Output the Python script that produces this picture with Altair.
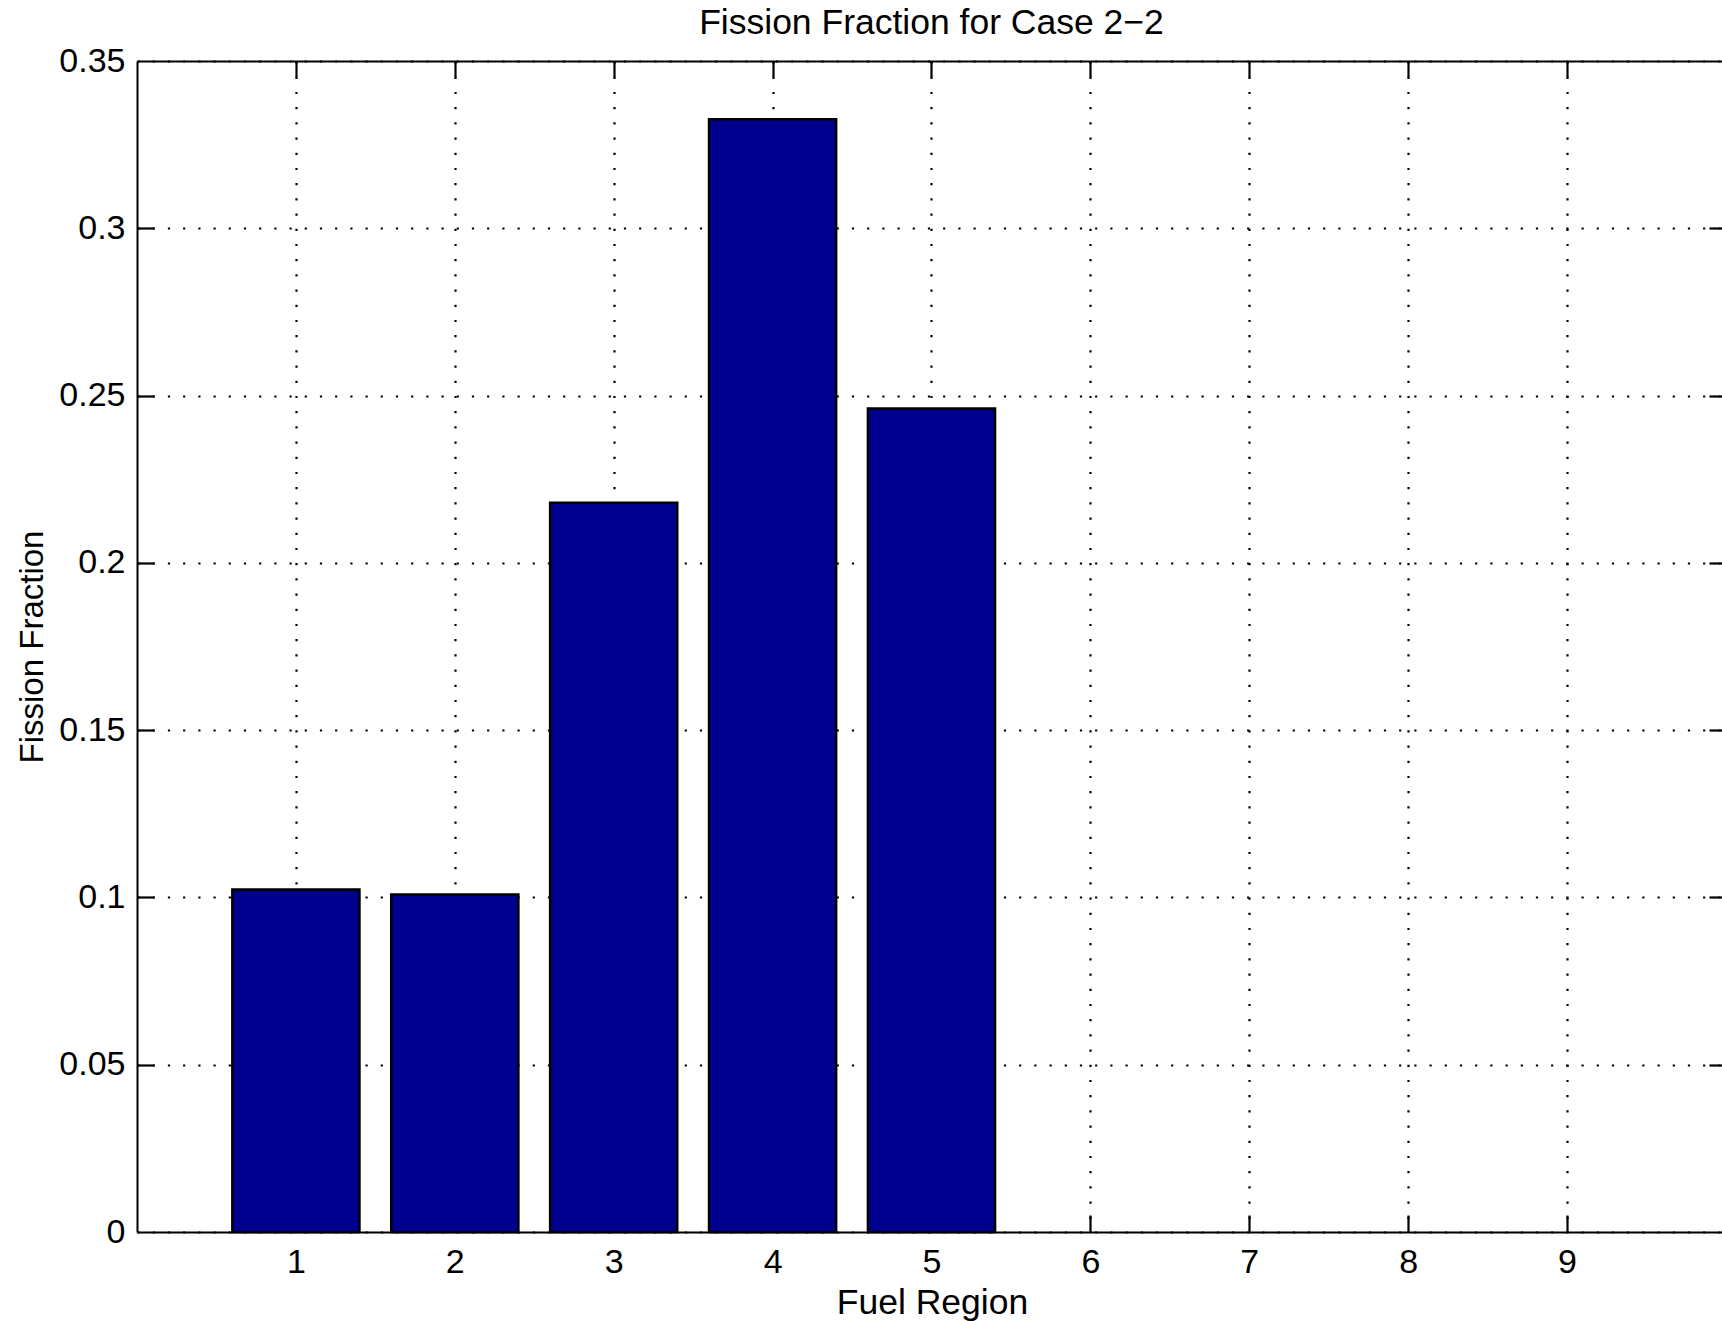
import altair as alt
import pandas as pd

# Fission fraction per fuel region (regions 6-9 carry no fission)
regions = [1, 2, 3, 4, 5]
fractions = [0.1024, 0.1009, 0.2180, 0.3326, 0.2461]

x_ticks = [1, 2, 3, 4, 5, 6, 7, 8, 9]
y_ticks = [0, 0.05, 0.1, 0.15, 0.2, 0.25, 0.3, 0.35]

df = pd.DataFrame({"region": regions, "fraction": fractions})

FONT = "Liberation Sans"
W, H = 1585, 1171
TICK = 17

x_scale = alt.Scale(domain=[0, 9.975], nice=False, zero=False)
y_scale = alt.Scale(domain=[0, 0.35], nice=False, zero=False)

grid_style = dict(grid=True, gridColor="black", gridWidth=2.2, gridOpacity=1,
                  gridDash=[2.2, 13], gridCap="butt")

# Main layer: bars, labelled axes and dotted grid
x_main = alt.Axis(orient="bottom", values=x_ticks, title="Fuel Region",
                  ticks=False, tickSize=0, domain=True, domainColor="black",
                  domainWidth=2, labelFont=FONT, labelFontSize=34,
                  labelColor="black", labelPadding=13, titleFont=FONT,
                  titleFontSize=35.5, titleFontWeight="normal", titleColor="black",
                  titleX=795, titleY=81, titleBaseline="alphabetic",
                  **grid_style)
y_main = alt.Axis(orient="left", values=y_ticks, format="~g", title="Fission Fraction",
                  ticks=False, tickSize=0, domain=True, domainColor="black",
                  domainWidth=2, labelFont=FONT, labelFontSize=34,
                  labelColor="black", labelPadding=12, titleFont=FONT,
                  titleFontSize=33, titleFontWeight="normal", titleColor="black",
                  titleAngle=270, titleX=-95, titleY=H / 2,
                  titleBaseline="alphabetic", titleAlign="center",
                  **grid_style)

bars = alt.Chart(df).transform_calculate(
    left="datum.region - 0.4", right="datum.region + 0.4"
).mark_rect(color="#00008F", stroke="black", strokeWidth=2.5).encode(
    x=alt.X("left:Q", scale=x_scale, axis=x_main),
    x2="right:Q",
    y=alt.Y("fraction:Q", scale=y_scale, axis=y_main),
    y2=alt.datum(0),
)

def tick_axis(orient, values, size, offset):
    return alt.Axis(orient=orient, values=values, domain=False, labels=False,
                    grid=False, ticks=True, tickSize=size, tickWidth=2.2,
                    tickColor="black", offset=offset, title=None)

# Inward ticks along the bottom and left edges
ticks_bl = alt.Chart(df).mark_point(opacity=0).encode(
    x=alt.X("region:Q", scale=x_scale, axis=tick_axis("bottom", x_ticks, TICK, -TICK)),
    y=alt.Y("fraction:Q", scale=y_scale, axis=tick_axis("left", y_ticks[1:-1], TICK, -TICK)),
)

# Inward ticks along the top and right edges
ticks_tr = alt.Chart(df).mark_point(opacity=0).encode(
    x=alt.X("region:Q", scale=x_scale, axis=tick_axis("top", x_ticks, TICK - 1, -(TICK - 1))),
    y=alt.Y("fraction:Q", scale=y_scale, axis=tick_axis("right", y_ticks[1:-1], 13, -13)),
)

# Top border of the axes box
top_border = alt.Chart(df).mark_point(opacity=0).encode(
    x=alt.X("region:Q", scale=x_scale,
            axis=alt.Axis(orient="top", domain=True, domainColor="black",
                          domainWidth=2, ticks=False, labels=False,
                          grid=False, title=None)),
    y=alt.Y("fraction:Q", scale=y_scale, axis=None),
)

chart = alt.layer(bars, ticks_bl, ticks_tr, top_border).resolve_axis(
    x="independent", y="independent"
).properties(
    width=W,
    height=H,
    title=alt.TitleParams("Fission Fraction for Case 2\u22122", font=FONT,
                          fontSize=35.5, fontWeight="normal", color="black",
                          anchor="middle", frame="group", baseline="alphabetic",
                          offset=0, dx=2, dy=25),
    autosize=alt.AutoSizeParams(type="none"),
    padding={"left": 137, "top": 61, "right": 0, "bottom": 89},
    background="white",
).configure_view(strokeWidth=0)

chart.save("out.html", embed_options={"renderer": "svg", "actions": False})
